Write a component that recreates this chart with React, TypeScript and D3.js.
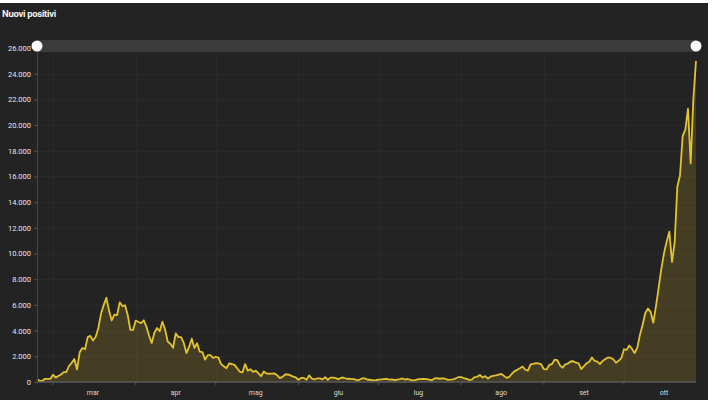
import * as d3 from 'd3'
import { useEffect, useRef } from 'react'

// daily new positives in Italy, from 24 Feb to 28 Oct 2020
const startDate = new Date(2020, 1, 24)
const newCases = [
  // feb
  221, 93, 78, 250, 238, 240,
  // mar
  566, 342, 466, 587, 769, 778, 1247, 1492, 1797, 977, 2313, 2651, 2547, 3497, 3590, 3233,
  3526, 4207, 5322, 5986, 6557, 5560, 4789, 5249, 5210, 6203, 5909, 5974, 5217, 4050, 4053,
  // apr
  4782, 4668, 4585, 4805, 4316, 3599, 3039, 3836, 4204, 3951, 4694, 4092, 3153, 2972, 2667,
  3786, 3493, 3491, 3047, 2256, 2729, 3370, 2646, 3021, 2357, 2324, 1739, 2091, 2086, 1872,
  // mag
  1965, 1900, 1389, 1221, 1075, 1444, 1401, 1327, 1083, 802, 744, 1402, 888, 992, 789, 875,
  675, 451, 813, 665, 642, 652, 669, 531, 300, 397, 584, 593, 516, 416, 355,
  // giu
  178, 318, 321, 177, 518, 270, 197, 280, 283, 202, 379, 163, 346, 338, 301, 210, 329, 333,
  251, 262, 224, 218, 122, 190, 296, 259, 175, 174, 126, 142,
  // lug
  187, 201, 223, 235, 192, 208, 138, 193, 229, 276, 188, 234, 169, 114, 162, 230, 233, 249,
  219, 190, 129, 282, 306, 252, 275, 255, 170, 181, 212, 289, 386,
  // ago
  379, 295, 239, 159, 190, 384, 402, 552, 347, 463, 259, 412, 481, 523, 574, 629, 479, 320,
  403, 642, 845, 947, 1071, 1210, 953, 878, 1367, 1411, 1460, 1444, 1365,
  // set
  996, 978, 1326, 1397, 1733, 1695, 1297, 1108, 1370, 1434, 1597, 1616, 1501, 1458, 1008,
  1229, 1452, 1585, 1907, 1638, 1587, 1392, 1640, 1786, 1912, 1869, 1766, 1494, 1648, 1851,
  // ott
  2548, 2499, 2844, 2578, 2257, 2677, 3678, 4458, 5372, 5724, 5456, 4619, 5901, 7332, 8804,
  10010, 10925, 11705, 9338, 10874, 15199, 16079, 19143, 19644, 21273, 17012, 21994, 24991,
]
const monthLabels = ['mar', 'apr', 'mag', 'giu', 'lug', 'ago', 'set', 'ott']
const yTicks = [0, 2000, 4000, 6000, 8000, 10000, 12000, 14000, 16000, 18000, 20000, 22000, 24000, 26000]

const W = 712
const H = 400

const App = () => {
  const svgRef = useRef<SVGSVGElement>(null)

  useEffect(() => {
    const svg = d3.select(svgRef.current)
    svg.selectAll('*').remove()

    const margin = { left: 37, right: 16, top: 48, bottom: 18 }
    const data = newCases.map((v, i) => ({ date: d3.timeDay.offset(startDate, i), value: v }))
    const endDate = data[data.length - 1].date

    const x = d3
      .scaleTime()
      .domain([startDate, endDate])
      .range([margin.left, W - margin.right])
    const y = d3
      .scaleLinear()
      .domain([0, 26000])
      .range([H - margin.bottom, margin.top])

    // background
    svg.append('rect').attr('width', W).attr('height', H).attr('fill', '#fff')
    svg.append('rect').attr('x', 0).attr('y', 3).attr('width', W - 4).attr('height', H - 3).attr('fill', '#232323')

    // title
    svg
      .append('text')
      .attr('x', 2)
      .attr('y', 17)
      .text('Nuovi positivi')
      .attr('fill', '#f2f2f2')
      .style('font-family', 'Roboto, sans-serif')
      .style('font-weight', '700')
      .style('font-size', '9.5px')
      .style('letter-spacing', '-0.3px')

    // grid
    const monthStarts = d3.timeMonth.range(d3.timeMonth.ceil(startDate), endDate)
    const grid = svg.append('g').attr('stroke', '#292929').attr('stroke-width', 1)
    grid
      .selectAll('line.h')
      .data(yTicks.slice(1))
      .enter()
      .append('line')
      .attr('x1', margin.left)
      .attr('x2', W - margin.right)
      .attr('y1', (d) => Math.round(y(d)) + 0.5)
      .attr('y2', (d) => Math.round(y(d)) + 0.5)
    grid
      .selectAll('line.v')
      .data(monthStarts)
      .enter()
      .append('line')
      .attr('x1', (d) => Math.round(x(d)) + 0.5)
      .attr('x2', (d) => Math.round(x(d)) + 0.5)
      .attr('y1', margin.top)
      .attr('y2', H - margin.bottom)

    // area + line
    const area = d3
      .area<{ date: Date; value: number }>()
      .x((d) => x(d.date))
      .y0(y(0))
      .y1((d) => y(d.value))
    const line = d3
      .line<{ date: Date; value: number }>()
      .x((d) => x(d.date))
      .y((d) => y(d.value))

    svg.append('path').datum(data).attr('d', area).attr('fill', '#b09428').attr('fill-opacity', 0.24)
    svg
      .append('path')
      .datum(data)
      .attr('d', line)
      .attr('fill', 'none')
      .attr('stroke', '#e2c32e')
      .attr('stroke-width', 1.8)
      .attr('stroke-linejoin', 'round')

    // y axis
    const yAxis = d3
      .axisLeft(y)
      .tickValues(yTicks)
      .tickSize(3)
      .tickPadding(3)
      .tickFormat((d) => d3.format(',')(d as number).replace(/,/g, '.'))
    const yg = svg.append('g').attr('transform', `translate(${margin.left},0)`).call(yAxis)
    yg.select('.domain').attr('stroke', '#444')
    yg.selectAll('.tick line').attr('stroke', '#555')
    yg.selectAll('.tick text')
      .attr('fill', '#e6e6e6')
      .style('font-family', 'Roboto, sans-serif')
      .style('font-size', '7.5px')

    // x axis
    const xg = svg.append('g').attr('transform', `translate(0,${H - margin.bottom})`)
    xg.append('line')
      .attr('x1', margin.left)
      .attr('x2', W - margin.right)
      .attr('stroke', '#5a5a5a')
      .attr('stroke-width', 1.5)
    xg.selectAll('line.tick')
      .data(monthStarts)
      .enter()
      .append('line')
      .attr('x1', (d) => x(d))
      .attr('x2', (d) => x(d))
      .attr('y1', 0)
      .attr('y2', 3)
      .attr('stroke', '#555')
    xg.selectAll('text')
      .data(monthStarts)
      .enter()
      .append('text')
      .attr('x', (d) => x(d3.timeDay.offset(d, 15)))
      .attr('y', 13)
      .attr('text-anchor', 'middle')
      .text((d, i) => monthLabels[i])
      .attr('fill', '#dcdcdc')
      .style('font-family', 'Roboto, sans-serif')
      .style('font-size', '7px')

    // range slider
    svg
      .append('rect')
      .attr('x', margin.left)
      .attr('y', 40)
      .attr('width', W - margin.right - margin.left)
      .attr('height', 12)
      .attr('fill', '#3b3b3b')
    svg
      .selectAll('circle.handle')
      .data([startDate, endDate])
      .enter()
      .append('circle')
      .attr('cx', (d) => x(d))
      .attr('cy', 46)
      .attr('r', 5.5)
      .attr('fill', '#fafafa')
  }, [])

  return (
    <div style={{ position: 'fixed', left: 0, top: 0, width: W, height: H }}>
      <svg ref={svgRef} width={W} height={H} style={{ display: 'block' }} />
    </div>
  )
}

export default App
